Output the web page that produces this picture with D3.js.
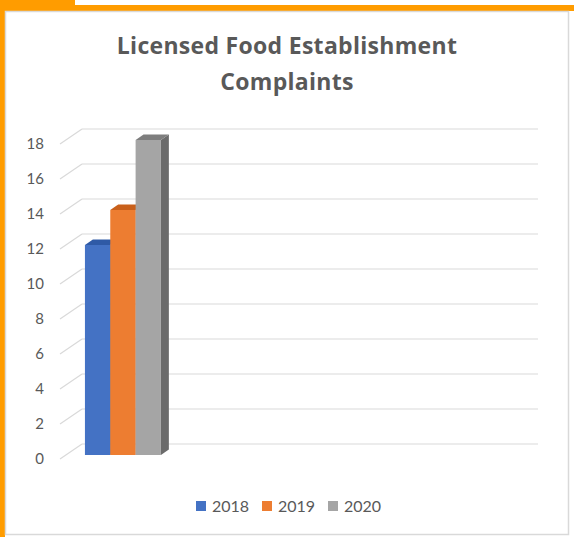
<!DOCTYPE html>
<html>
<head>
<meta charset="utf-8">
<script src="https://cdn.jsdelivr.net/npm/d3@7"></script>
<style>
  html, body { margin: 0; padding: 0; background: #fff; }
  svg { display: block; }
</style>
</head>
<body>
<script>
// Chart data
const categories = ["Complaints"];
const seriesNames = ["2018", "2019", "2020"];
const seriesValues = [12, 14, 18];
const yTicks = [0, 2, 4, 6, 8, 10, 12, 14, 16, 18];
const titleLines = ["Licensed Food Establishment", "Complaints"];

const frontColors = ["#4472C4", "#ED7D31", "#A5A5A5"];
const topColors   = ["#2F5AA6", "#C9601B", "#7E7E7E"];
const sideColors  = ["#2E5395", "#B45A1C", "#6B6B6B"];

const W = 574, H = 537;
const svg = d3.select("body").append("svg")
  .attr("width", W).attr("height", H);

// Orange frame around the panel
const orange = "#FF9C00";
svg.append("rect").attr("x", 0).attr("y", 0).attr("width", 75).attr("height", 11).attr("fill", orange);
svg.append("rect").attr("x", 0).attr("y", 5).attr("width", W).attr("height", 6).attr("fill", orange);
svg.append("rect").attr("x", 0).attr("y", 0).attr("width", 5).attr("height", H).attr("fill", orange);

// Chart panel
svg.append("rect")
  .attr("x", 5.5).attr("y", 11.5).attr("width", 563).attr("height", 523)
  .attr("fill", "#fff").attr("stroke", "#D9D9D9").attr("stroke-width", 1.5);

// Title
svg.append("text")
  .attr("x", 287).attr("y", 54)
  .attr("text-anchor", "middle")
  .attr("font-family", "'Open Sans', Lato, sans-serif")
  .attr("font-weight", 700)
  .attr("font-size", 23)
  .attr("letter-spacing", 0.3)
  .attr("fill", "#595959")
  .selectAll("tspan").data(titleLines).join("tspan")
  .attr("x", 287).attr("dy", (d, i) => i === 0 ? 0 : 36)
  .text(d => d);

// 3D projection: depth z in [0,1] shifts up and to the right
const depthDX = 22, depthDY = 15;
const project = (x, y, z) => [x + depthDX * z, y - depthDY * z];

const plotLeft = 60, plotRight = 516;
const y = d3.scaleLinear().domain([0, 18]).range([459, 144]);

// Walls: side-wall diagonals and back-wall gridlines
const grid = svg.append("g").attr("stroke", "#D9D9D9").attr("stroke-width", 1.2).attr("fill", "none");
grid.selectAll("line.diag").data(yTicks).join("line")
  .attr("class", "diag")
  .attr("x1", plotLeft).attr("y1", d => y(d))
  .attr("x2", d => project(plotLeft, y(d), 1)[0])
  .attr("y2", d => project(plotLeft, y(d), 1)[1]);
grid.selectAll("line.back").data(yTicks).join("line")
  .attr("class", "back")
  .attr("x1", d => project(plotLeft, y(d), 1)[0])
  .attr("y1", d => project(plotLeft, y(d), 1)[1])
  .attr("x2", d => project(plotRight, y(d), 1)[0])
  .attr("y2", d => project(plotRight, y(d), 1)[1]);

// Value axis labels
svg.append("g").selectAll("text").data(yTicks).join("text")
  .attr("x", 44).attr("y", d => y(d))
  .attr("dy", "0.36em")
  .attr("text-anchor", "end")
  .attr("font-family", "Lato, 'Open Sans', sans-serif")
  .attr("font-size", 15)
  .attr("fill", "#595959")
  .text(d => d);

// Category and series band scales
const x0 = d3.scaleBand().domain(categories).range([plotLeft, plotLeft + 114]).padding(0);
const x1 = d3.scaleBand().domain(seriesNames).range([0, x0.bandwidth()])
  .paddingInner(0).paddingOuter(0.75);

const zFront = 0.27, zBack = 0.63;
const bars = seriesNames.map((s, i) => ({ name: s, value: seriesValues[i], i }));

const pts = arr => arr.map(p => p.join(",")).join(" ");
const barG = svg.append("g");
bars.forEach(b => {
  const xl = x0(categories[0]) + x1(b.name);
  const xr = xl + x1.bandwidth();
  const yt = y(b.value), yb = y(0);
  const fTL = project(xl, yt, zFront), fTR = project(xr, yt, zFront);
  const fBL = project(xl, yb, zFront), fBR = project(xr, yb, zFront);
  const bTL = project(xl, yt, zBack), bTR = project(xr, yt, zBack);
  const bBR = project(xr, yb, zBack);
  const g = barG.append("g");
  g.append("polygon").attr("points", pts([fTR, bTR, bBR, fBR])).attr("fill", sideColors[b.i]);
  g.append("polygon").attr("points", pts([fTL, fTR, bTR, bTL])).attr("fill", topColors[b.i]);
  g.append("polygon").attr("points", pts([fTL, fTR, fBR, fBL])).attr("fill", frontColors[b.i]);
});

// Legend
const legend = svg.append("g");
const legItems = legend.selectAll("g").data(seriesNames).join("g")
  .attr("transform", (d, i) => `translate(${196 + i * 66},501)`);
legItems.append("rect").attr("width", 10).attr("height", 10)
  .attr("fill", (d, i) => frontColors[i]);
legItems.append("text")
  .attr("x", 16).attr("y", 5).attr("dy", "0.36em")
  .attr("font-family", "Lato, 'Open Sans', sans-serif")
  .attr("font-size", 16)
  .attr("fill", "#595959")
  .text(d => d);
</script>
</body>
</html>
